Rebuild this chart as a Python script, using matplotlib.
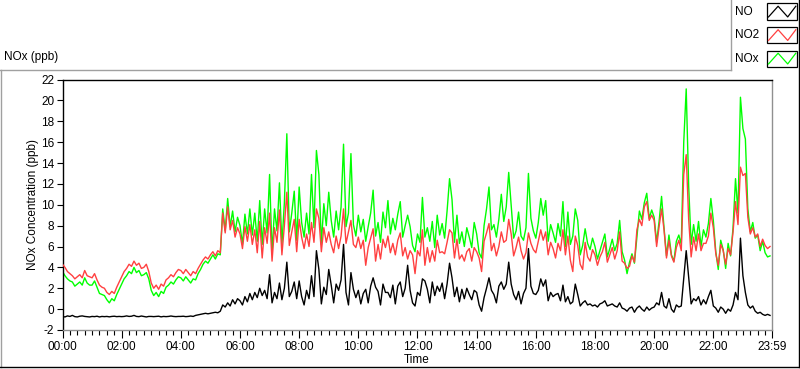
import numpy as np
import matplotlib
matplotlib.use("Agg")
import matplotlib.pyplot as plt
from matplotlib.lines import Line2D
from matplotlib.patches import Rectangle
from matplotlib.ticker import FixedLocator, FixedFormatter

plt.rcParams['font.family'] = ['Liberation Sans', 'DejaVu Sans']

# ---- data: one value every 5 minutes, 00:00 .. 23:55 ----
no_ppb = [
    -0.70, -0.75, -0.65, -0.70, -0.60, -0.72, -0.75, -0.68, -0.65, -0.70, -0.72, -0.75,
    -0.70, -0.72, -0.68, -0.75, -0.70, -0.72, -0.70, -0.74, -0.70, -0.68, -0.72, -0.70,
    -0.72, -0.70, -0.65, -0.70, -0.68, -0.60, -0.70, -0.72, -0.66, -0.70, -0.75, -0.70,
    -0.70, -0.72, -0.70, -0.68, -0.74, -0.70, -0.72, -0.70, -0.66, -0.70, -0.72, -0.70,
    -0.70, -0.68, -0.72, -0.70, -0.66, -0.70, -0.60, -0.55, -0.50, -0.45, -0.40, -0.45,
    -0.40, -0.35, -0.30, -0.35, -0.20, 0.40, 0.20, 0.60, 0.30, 0.90, 0.50, 1.00,
    0.80, 0.40, 1.20, 0.70, 1.50, 0.90, 1.60, 1.10, 2.00, 1.30, 1.80, 1.00,
    3.30, 0.60, 1.60, 1.00, 2.50, 0.90, 2.00, 4.50, 1.20, 1.70, 2.60, 1.00,
    2.70, 1.20, 0.40, 1.80, 1.00, 3.20, 1.20, 5.60, 3.80, 0.50, 2.10, 1.40,
    3.80, 2.30, 0.60, 2.40, 1.80, 2.80, 6.20, 1.60, 0.40, 3.50, 1.90, 1.10,
    1.80, 0.50, 1.50, 1.90, 0.60, 2.20, 3.00, 2.10, 1.70, 0.40, 2.40, 1.60,
    1.60, 1.10, 2.30, 0.50, 2.20, 2.60, 1.20, 2.00, 4.20, 1.80, 0.60, 0.30,
    1.60, 1.30, 2.90, 2.70, 1.90, 0.60, 2.60, 1.30, 2.20, 1.70, 2.50, 1.00,
    2.40, 4.40, 3.00, 1.20, 2.10, 0.70, 1.90, 1.00, 2.00, 1.40, 0.90, 1.80,
    1.60, 0.40, -0.20, 1.10, 2.00, 3.00, 1.80, 1.40, 0.60, 2.20, 2.60, 1.90,
    2.40, 4.50, 2.40, 1.40, 0.90, 1.70, 0.50, 1.50, 2.00, 5.80, 2.20, 1.50,
    1.40, 1.80, 2.90, 2.20, 2.80, 0.80, 1.60, 1.20, 1.40, 1.50, 0.80, 2.30,
    0.70, 1.20, 0.50, 0.70, 2.40, 1.40, 0.30, 0.60, 0.80, 0.40, 0.50, 0.30,
    0.40, 0.20, 0.50, 0.60, 0.80, 0.30, 0.40, 0.50, 0.30, 0.20, 0.60, 0.10,
    0.00, -0.20, 0.10, 0.20, -0.30, 0.10, 0.30, 0.00, -0.20, 0.20, -0.10, 0.10,
    0.20, 0.60, 0.40, 1.60, 0.30, 0.10, 1.00, 0.00, -0.30, 0.40, 0.20, 0.30,
    2.90, 5.60, 3.10, 0.50, 1.00, 0.80, 1.20, 0.40, 0.90, 0.50, 1.20, 1.80,
    0.30, 0.10, -0.30, 0.20, 0.00, -0.40, 0.00, -0.20, 0.40, 1.60, 0.90, 6.80,
    3.20, 1.60, 0.40, 0.10, 0.30, -0.20, -0.40, -0.30, -0.50, -0.60, -0.50, -0.60,
]

no2_ppb = [
    4.3, 4.0, 3.6, 3.4, 3.2, 2.9, 3.1, 3.3, 3.0, 3.7, 3.2, 3.1,
    3.0, 3.4, 2.8, 2.3, 2.1, 2.0, 1.6, 1.4, 1.7, 1.5, 2.1, 2.6,
    3.1, 3.6, 3.9, 4.3, 4.1, 4.6, 4.2, 4.4, 3.9, 4.0, 4.3, 3.6,
    2.5, 2.0, 2.3, 1.9, 2.4, 2.2, 2.8, 3.0, 3.3, 3.1, 3.5, 3.8,
    3.7, 3.4, 3.8, 3.5, 3.2, 3.6, 3.4, 3.9, 4.3, 4.7, 5.0, 4.8,
    5.2, 5.5, 5.1, 5.6, 5.4, 9.2, 7.3, 9.8, 7.6, 8.5, 6.9, 7.8,
    7.2, 5.8, 7.9, 6.5, 8.1, 6.2, 7.6, 5.4, 8.4, 4.9, 7.8, 6.3,
    9.2, 4.6, 7.8, 6.4, 9.5, 5.2, 8.0, 11.2, 6.1, 7.4, 8.6, 5.5,
    8.6, 6.9, 5.8, 7.2, 6.0, 8.3, 6.4, 9.6, 8.7, 5.5, 7.8, 6.4,
    7.4, 6.2, 5.4, 7.0, 5.8, 7.0, 9.6, 6.3, 7.4, 8.5, 6.2, 5.9,
    6.9, 5.8, 6.6, 4.2, 5.9, 6.8, 7.7, 4.6, 6.2, 4.8, 6.7, 5.9,
    7.0, 5.4, 6.3, 5.2, 6.6, 7.3, 5.1, 5.9, 4.8, 5.6, 5.2, 3.4,
    5.6, 5.1, 7.6, 4.2, 5.9, 4.5, 5.6, 4.6, 6.6, 5.4, 5.5, 5.3,
    6.4, 7.6, 7.3, 4.9, 6.7, 4.8, 5.2, 4.6, 5.5, 5.8, 4.6, 5.9,
    5.5, 4.9, 3.6, 6.5, 7.3, 8.2, 5.6, 6.3, 5.1, 6.0, 7.4, 6.4,
    6.6, 8.6, 7.2, 5.1, 5.9, 6.9, 5.6, 4.8, 5.4, 7.3, 6.3, 5.7,
    5.4, 6.5, 7.6, 6.6, 7.4, 5.2, 6.4, 5.8, 4.9, 6.3, 5.6, 7.6,
    5.2, 7.0, 4.7, 3.6, 7.0, 6.1, 4.3, 3.8, 6.4, 5.0, 4.6, 5.7,
    5.2, 4.2, 5.0, 5.5, 6.4, 4.5, 5.2, 5.9, 4.8, 5.6, 7.4, 4.6,
    4.4, 3.9, 4.1, 5.1, 4.5, 7.6, 8.6, 8.0, 9.8, 10.3, 8.5, 9.0,
    8.5, 6.0, 7.9, 9.6, 7.6, 4.9, 6.6, 5.1, 4.5, 5.9, 6.6, 5.6,
    12.9, 14.8, 8.6, 5.0, 6.9, 5.6, 7.2, 5.6, 6.3, 6.3, 7.0, 9.2,
    7.8, 5.3, 4.2, 6.2, 5.6, 4.3, 5.8, 5.2, 7.4, 10.3, 8.1, 13.6,
    12.8, 13.0, 8.8, 7.2, 7.8, 6.9, 7.2, 6.0, 6.7, 6.1, 5.8, 6.0,
]

nox_ppb = [
    3.6, 3.2, 2.9, 2.7, 2.6, 2.2, 2.4, 2.6, 2.3, 3.0, 2.5, 2.3,
    2.3, 2.7, 2.1, 1.5, 1.4, 1.3, 0.9, 0.6, 1.0, 0.8, 1.4, 1.9,
    2.4, 2.9, 3.2, 3.6, 3.4, 4.0, 3.5, 3.7, 3.2, 3.3, 3.5, 2.9,
    1.8, 1.3, 1.6, 1.2, 1.7, 1.5, 2.1, 2.3, 2.6, 2.4, 2.8, 3.1,
    3.0, 2.7, 3.1, 2.8, 2.5, 2.9, 2.8, 3.4, 3.8, 4.3, 4.6, 4.4,
    4.8, 5.2, 4.8, 5.3, 5.2, 9.6, 7.5, 10.6, 7.9, 9.4, 7.4, 8.8,
    8.0, 6.2, 9.1, 7.2, 9.6, 7.1, 9.2, 6.5, 10.4, 6.2, 9.6, 7.3,
    12.9, 5.3, 9.6, 7.5, 12.1, 6.2, 10.2, 16.8, 7.4, 9.2, 11.3, 6.6,
    11.7, 8.3, 6.9, 9.2, 7.2, 12.9, 7.8, 15.2, 12.9, 6.2, 10.1, 8.0,
    11.2, 8.5, 6.9, 9.4, 7.6, 9.8, 15.8, 7.9, 9.2, 14.9, 8.1, 7.0,
    9.0, 7.4, 8.6, 6.5, 7.9, 9.2, 11.4, 7.0, 8.3, 6.4, 9.3, 7.8,
    10.4, 7.2, 8.7, 7.6, 9.1, 10.3, 6.9, 8.0, 9.0, 7.9, 6.1, 5.5,
    7.2, 6.4, 10.7, 6.9, 7.8, 6.5, 8.4, 5.9, 9.0, 7.1, 8.2, 6.8,
    9.4, 12.5, 10.5, 6.4, 9.0, 6.3, 7.4, 6.0, 7.8, 6.9, 5.9, 8.3,
    7.2, 5.4, 4.9, 8.0, 9.6, 11.7, 7.6, 8.1, 6.9, 8.6, 11.0, 8.4,
    9.8, 13.1, 9.9, 6.8, 7.5, 9.3, 7.0, 6.6, 7.8, 13.0, 8.7, 7.5,
    6.8, 8.3, 10.6, 9.0, 10.4, 6.5, 8.1, 7.3, 6.4, 8.2, 7.0, 10.3,
    6.0, 9.3, 6.2, 7.0, 9.6, 8.5, 5.2, 6.1, 7.7, 6.3, 5.7, 6.8,
    6.0, 4.8, 5.6, 6.4, 7.2, 5.0, 5.8, 6.7, 5.6, 6.3, 8.5, 5.5,
    4.7, 3.4, 4.5, 5.3, 4.4, 6.9, 9.4, 8.6, 10.2, 11.1, 8.7, 9.5,
    8.8, 6.4, 8.4, 10.8, 7.8, 5.1, 7.1, 5.2, 4.6, 6.5, 7.1, 6.2,
    16.0, 21.1, 11.8, 6.2, 8.1, 6.5, 8.4, 6.0, 7.6, 6.9, 8.2, 10.6,
    8.5, 5.5, 3.8, 6.6, 5.7, 3.9, 6.3, 5.1, 7.8, 12.5, 9.2, 20.3,
    17.3, 16.3, 9.6, 7.4, 8.3, 6.8, 7.1, 5.6, 6.5, 5.4, 5.0, 5.1,
]

series_names = ["NO", "NO2", "NOx"]
series_colors = ["#000000", "#FF4040", "#00FF00"]
y_ticks = list(range(-2, 23, 2))
x_tick_minutes = [0, 120, 240, 360, 480, 600, 720, 840, 960, 1080, 1200, 1320, 1439]
x_tick_labels = ["00:00", "02:00", "04:00", "06:00", "08:00", "10:00", "12:00",
                 "14:00", "16:00", "18:00", "20:00", "22:00", "23:59"]
minutes = np.arange(len(no_ppb)) * 5

# ---- figure ----
W, H = 800, 369
fig = plt.figure(figsize=(W / 100, H / 100), dpi=100)
fig.patch.set_facecolor("white")

def fx(x):
    return x / W

def fy(y):
    return 1 - y / H

L, R, T, B = 62.5, 772, 79.5, 330
ax = fig.add_axes([fx(L), fy(B), (R - L) / W, (B - T) / H])

ax.plot(minutes, nox_ppb, color=series_colors[2], lw=1.0, zorder=2)
ax.plot(minutes, no2_ppb, color=series_colors[1], lw=1.0, zorder=3)
ax.plot(minutes, no_ppb, color=series_colors[0], lw=1.0, zorder=4)

ax.set_xlim(0, 1439)
ax.set_ylim(-2, 22)
ax.set_yticks(y_ticks)
ax.set_yticklabels([str(v) for v in y_ticks])
ax.xaxis.set_major_locator(FixedLocator(x_tick_minutes))
ax.xaxis.set_major_formatter(FixedFormatter(x_tick_labels))
minor = [m for m in range(15, 1439, 15) if m % 120 != 0]
ax.xaxis.set_minor_locator(FixedLocator(minor))

ax.tick_params(axis="y", which="major", length=4, width=0.8, pad=2, labelsize=8.5, colors="black")
ax.tick_params(axis="x", which="major", length=6, width=0.8, pad=2, labelsize=8.5, colors="black")
ax.tick_params(axis="x", which="minor", length=3.5, width=0.8)

for side, col in [("left", "black"), ("top", "black"), ("right", "#909090"), ("bottom", "#909090")]:
    ax.spines[side].set_color(col)
    ax.spines[side].set_linewidth(1.0)

# axis titles
fig.text(fx(417), fy(360), "Time", ha="center", va="center", fontsize=8.5)
fig.text(fx(33), fy(205), "NOx Concentration (ppb)", ha="center", va="center",
         rotation=90, fontsize=8.5)
fig.text(fx(4), fy(57), "NOx (ppb)", ha="left", va="center", fontsize=8.5)

# outer panel frame
def fline(xs, ys, color, lw=1.0):
    fig.add_artist(Line2D([fx(x) for x in xs], [fy(y) for y in ys],
                          color=color, lw=lw, transform=fig.transFigure))

fline([0, 731], [69.5, 69.5], "#a0a0a0")
fline([0.7, 0.7], [69.5, 367], "#a0a0a0")
fline([0, 798.5], [367, 367], "black")
fline([798.5, 798.5], [0, 367], "black")
fline([731, 731], [0, 70], "#a0a0a0")

# legend
box_tops = [3.5, 27, 50.5]
for name, col, top in zip(series_names, series_colors, box_tops):
    bx0, bw, bh = 767, 30, 16
    fig.add_artist(Rectangle((fx(bx0), fy(top + bh)), bw / W, bh / H,
                             transform=fig.transFigure, facecolor="white",
                             edgecolor="black", lw=0.9))
    xs = [bx0 + f * bw for f in (0.05, 0.37, 0.69, 0.96)]
    ys = [top + f * bh for f in (0.84, 0.17, 0.84, 0.17)]
    fline(xs, ys, col, lw=0.9)
    fig.text(fx(735), fy(top + bh / 2 + 0.5), name, ha="left", va="center", fontsize=8.5)

fig.savefig("out.png", dpi=100)
